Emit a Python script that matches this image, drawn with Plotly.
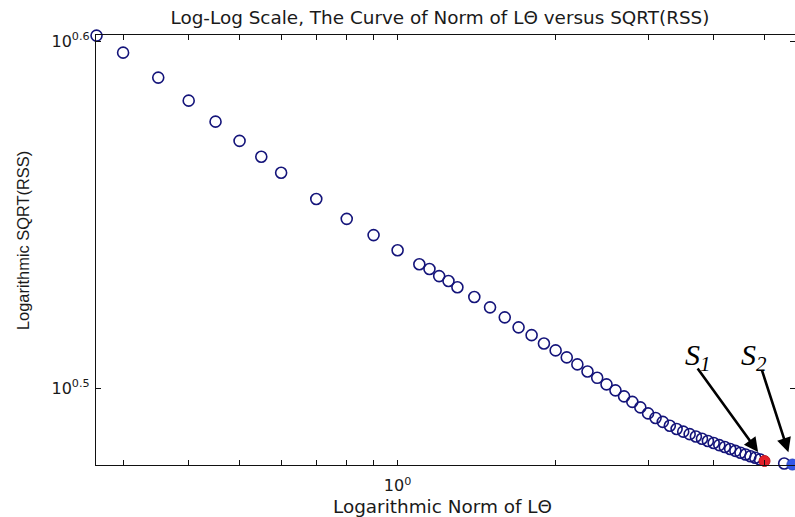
import numpy as np
import plotly.graph_objects as go

# ---- data ----
norm_L_theta = [0.267, 0.30, 0.35, 0.40, 0.45, 0.50, 0.55, 0.60, 0.70, 0.80, 0.90, 1.00,
                1.10, 1.15, 1.20, 1.25, 1.30,
                1.4, 1.5, 1.6, 1.7, 1.8, 1.9, 2.0, 2.1, 2.2, 2.3, 2.4, 2.5, 2.6, 2.7,
                2.8, 2.9, 3.0, 3.1, 3.2, 3.3, 3.4, 3.5, 3.6, 3.7, 3.8, 3.9, 4.0, 4.1,
                4.2, 4.3, 4.4, 4.5, 4.6, 4.7, 4.8, 4.9, 5.45]
sqrt_rss = [3.997, 3.952, 3.887, 3.828, 3.775, 3.727, 3.688, 3.649, 3.586, 3.539, 3.501, 3.466,
            3.434, 3.423, 3.407, 3.396, 3.382,
            3.360, 3.337, 3.315, 3.293, 3.276, 3.258, 3.243, 3.228, 3.213, 3.198, 3.1845, 3.1707,
            3.1581, 3.1455, 3.1340, 3.1226, 3.1101, 3.1008, 3.0926, 3.0848, 3.0782, 3.0727,
            3.0676, 3.0629, 3.0582, 3.0537, 3.0495, 3.0454, 3.0416, 3.0375, 3.0337, 3.0300,
            3.0264, 3.0230, 3.0198, 3.0165, 3.0083]
s1_point = [5.0, 3.0134]
s2_point = [5.65, 3.0063]

x_minor_ticks = [0.3, 0.4, 0.5, 0.6, 0.7, 0.8, 0.9, 1, 2, 3, 4, 5]
x_tick_text = ["", "", "", "", "", "", "", "10<sup>0</sup>", "", "", "", ""]
y_ticks = [10 ** 0.5, 10 ** 0.6]
y_tick_text = ["10<sup>0.5</sup>", "10<sup>0.6</sup>"]

title_text = "Log-Log Scale, The Curve of Norm of L\u0398 versus SQRT(RSS)"
xlabel_text = "Logarithmic Norm of L\u0398"
ylabel_text = "Logarithmic SQRT(RSS)"

WIDE = "DejaVu Sans, Verdana, sans-serif"
FONT = "Liberation Sans, Arial, sans-serif"
SERIF = "Liberation Serif, Times New Roman, serif"
TXT = "#1a1a1a"
NAVY = "#14147a"

W, H = 795, 517
ML, MR, MT, MB = 96, 0, 35, 52
PW, PH = W - ML - MR, H - MT - MB

fig = go.Figure()
fig.add_trace(go.Scatter(
    x=norm_L_theta, y=sqrt_rss, mode="markers",
    marker=dict(symbol="circle-open", size=11, color=NAVY, line=dict(width=1.6, color=NAVY)),
    cliponaxis=False, hoverinfo="skip"))
fig.add_trace(go.Scatter(
    x=[s1_point[0]], y=[s1_point[1]], mode="markers",
    marker=dict(symbol="circle", size=11, color="#e3202a", line=dict(width=1, color="#c01820")),
    cliponaxis=False, hoverinfo="skip"))
fig.add_trace(go.Scatter(
    x=[s2_point[0]], y=[s2_point[1]], mode="markers",
    marker=dict(symbol="circle", size=11, color="#3558e8", line=dict(width=1, color="#2a44c0")),
    cliponaxis=False, hoverinfo="skip"))

axis_common = dict(type="log", showgrid=False, zeroline=False, showline=True,
                   linecolor="#111111", linewidth=1.3, mirror="ticks",
                   ticks="inside", ticklen=5, tickwidth=1, tickcolor="#111111",
                   tickfont=dict(family=WIDE, size=16, color=TXT))

fig.update_layout(
    width=W, height=H,
    margin=dict(l=ML, r=MR, t=MT, b=MB),
    paper_bgcolor="white", plot_bgcolor="white",
    showlegend=False,
    xaxis=dict(range=[-0.5745, 0.757], tickmode="array", tickvals=x_minor_ticks,
               ticktext=x_tick_text, ticklabelstandoff=6, **axis_common),
    yaxis=dict(range=[0.4779, 0.6019], tickmode="array", tickvals=y_ticks,
               ticktext=y_tick_text, ticklabelstandoff=2, **axis_common),
    title=dict(text=title_text, font=dict(family=WIDE, size=18.4, color=TXT),
               xref="paper", x=(440 - ML) / PW, xanchor="center",
               yref="container", y=1 - 18 / H, yanchor="middle"),
)

annotations = [
    dict(text=xlabel_text, xref="paper", yref="paper", x=(442 - ML) / PW,
         y=-(506 - (H - MB)) / PH,
         xanchor="center", yanchor="middle", showarrow=False,
         font=dict(family=WIDE, size=18.4, color=TXT)),
    dict(text=ylabel_text, xref="paper", yref="paper", x=-(ML - 23) / PW,
         y=((H - MB) - 241) / PH,
         xanchor="center", yanchor="middle", showarrow=False, textangle=-90,
         font=dict(family=FONT, size=16.4, color=TXT)),
    dict(text="<i>S</i><sub><i>1</i></sub>", xref="paper", yref="paper",
         x=(698 - ML) / PW, y=((H - MB) - 357) / PH, xanchor="center", yanchor="middle",
         showarrow=False, font=dict(family=SERIF, size=30, color="black")),
    dict(text="<i>S</i><sub><i>2</i></sub>", xref="paper", yref="paper",
         x=(754 - ML) / PW, y=((H - MB) - 357) / PH, xanchor="center", yanchor="middle",
         showarrow=False, font=dict(family=SERIF, size=30, color="black")),
    dict(text="", x=np.log10(s1_point[0]), y=np.log10(s1_point[1]), xref="x", yref="y",
         showarrow=True, arrowhead=2, arrowsize=1.1, arrowwidth=2.6, arrowcolor="black",
         standoff=11, ax=-68, ay=-94),
    dict(text="", x=np.log10(s2_point[0]), y=np.log10(s2_point[1]), xref="x", yref="y",
         showarrow=True, arrowhead=2, arrowsize=1.1, arrowwidth=2.6, arrowcolor="black",
         standoff=13, ax=-31, ay=-96),
]
fig.update_layout(annotations=annotations)

fig.write_html("out.html")
